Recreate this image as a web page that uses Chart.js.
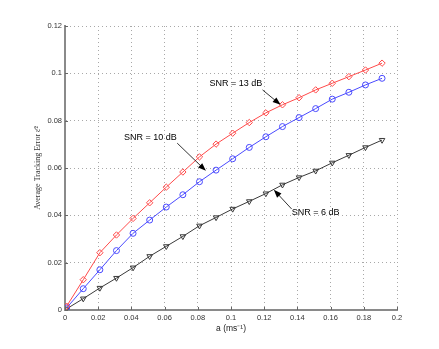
<!DOCTYPE html>
<html>
<head>
<meta charset="utf-8">
<script src="https://cdn.jsdelivr.net/npm/chart.js@4/dist/chart.umd.min.js"></script>
<style>html,body{margin:0;padding:0;background:#fff;}canvas{display:block;}</style>
</head>
<body>
<canvas id="c" width="439" height="349"></canvas>
<script>
const aValues = [0.001,0.011,0.021,0.031,0.041,0.051,0.061,0.071,0.081,0.091,0.101,0.111,0.121,0.131,0.141,0.151,0.161,0.171,0.181,0.191];
const snr13 = [0.0016,0.0128,0.0242,0.0317,0.0387,0.0453,0.0519,0.0583,0.0647,0.0701,0.0747,0.0792,0.0833,0.0867,0.0897,0.0930,0.0958,0.0986,0.1014,0.1043];
const snr10 = [0.0009,0.0090,0.0170,0.0251,0.0324,0.0380,0.0435,0.0487,0.0542,0.0591,0.0639,0.0687,0.0732,0.0775,0.0813,0.0851,0.0891,0.0920,0.0951,0.0979];
const snr6  = [0.0005,0.0048,0.0093,0.0135,0.0179,0.0227,0.0269,0.0311,0.0356,0.0391,0.0427,0.0459,0.0492,0.0529,0.0560,0.0588,0.0622,0.0654,0.0687,0.0718];
const xTickLabels = ['0','0.02','0.04','0.06','0.08','0.1','0.12','0.14','0.16','0.18','0.2'];
const yTickLabels = ['0','0.02','0.04','0.06','0.08','0.1','0.12'];
const annotations = [
  {text:'SNR = 13 dB', tx:0.1029, ty:0.0959, ax0:0.1190, ay0:0.0930, ax1:0.1299, ay1:0.0867},
  {text:'SNR = 10 dB', tx:0.0514, ty:0.0729, ax0:0.0676, ay0:0.0705, ax1:0.0849, ay1:0.0588},
  {text:'SNR = 6 dB',  tx:0.1510, ty:0.0410, ax0:0.1365, ay0:0.0427, ax1:0.1258, ay1:0.0508}
];

const toPts = arr => arr.map((v,i)=>({x:aValues[i], y:v}));

const annotPlugin = {
  id:'annot',
  afterDatasetsDraw(chart){
    const {ctx, scales:{x,y}, chartArea} = chart;
    ctx.save();
    ctx.strokeStyle = '#666'; ctx.lineWidth = 1;
    ctx.beginPath();
    x.ticks.forEach(t=>{const px=Math.round(x.getPixelForValue(t.value))+0.5; ctx.moveTo(px,chartArea.bottom); ctx.lineTo(px,chartArea.bottom-3);});
    y.ticks.forEach(t=>{const py=Math.round(y.getPixelForValue(t.value))+0.5; ctx.moveTo(chartArea.left,py); ctx.lineTo(chartArea.left+3,py);});
    ctx.stroke();
    ctx.font = '9px "Liberation Sans", Arial, sans-serif';
    ctx.fillStyle = '#000'; ctx.textAlign='center'; ctx.textBaseline='middle';
    annotations.forEach(a=>{
      ctx.fillText(a.text, x.getPixelForValue(a.tx), y.getPixelForValue(a.ty));
      const x0=x.getPixelForValue(a.ax0), y0=y.getPixelForValue(a.ay0);
      const x1=x.getPixelForValue(a.ax1), y1=y.getPixelForValue(a.ay1);
      const ang=Math.atan2(y1-y0,x1-x0), L=8, W=3;
      ctx.strokeStyle='#000'; ctx.lineWidth=0.8;
      ctx.beginPath(); ctx.moveTo(x0,y0); ctx.lineTo(x1-L*Math.cos(ang)*0.8,y1-L*Math.sin(ang)*0.8); ctx.stroke();
      ctx.beginPath();
      ctx.moveTo(x1,y1);
      ctx.lineTo(x1-L*Math.cos(ang)+W*Math.sin(ang), y1-L*Math.sin(ang)-W*Math.cos(ang));
      ctx.lineTo(x1-L*Math.cos(ang)-W*Math.sin(ang), y1-L*Math.sin(ang)+W*Math.cos(ang));
      ctx.closePath(); ctx.fill();
    });
    ctx.restore();
  }
};

const tickFont = {family:'"Liberation Sans", Arial, sans-serif', size:7.5};
new Chart(document.getElementById('c'), {
  type:'line',
  data:{datasets:[
    {data:toPts(snr13), borderColor:'#ff4a4a', borderWidth:1, pointStyle:'rectRot', pointRadius:3.2, pointBorderColor:'#ff4a4a', pointBackgroundColor:'rgba(0,0,0,0)', pointBorderWidth:1, tension:0},
    {data:toPts(snr10), borderColor:'#4a4aff', borderWidth:1, pointStyle:'circle', pointRadius:3, pointBorderColor:'#4a4aff', pointBackgroundColor:'rgba(0,0,0,0)', pointBorderWidth:1, tension:0},
    {data:toPts(snr6), borderColor:'#3a3a3a', borderWidth:1, pointStyle:'triangle', pointRotation:180, pointRadius:3.2, pointBorderColor:'#3a3a3a', pointBackgroundColor:'rgba(0,0,0,0)', pointBorderWidth:1, tension:0}
  ]},
  options:{
    responsive:false, animation:false, devicePixelRatio:1,
    layout:{padding:{left:0, top:26, right:42, bottom:0}},
    plugins:{legend:{display:false}, tooltip:{enabled:false}},
    scales:{
      x:{type:'linear', min:0, max:0.2,
        ticks:{stepSize:0.02, color:'#333', font:tickFont, padding:3, maxRotation:0, autoSkip:false,
          callback:(v,i)=>xTickLabels[i]},
        grid:{color:'#a8a8a8', lineWidth:1, drawTicks:false},
        border:{display:true, color:'#8a8a8a', width:2, dash:[1,3]},
        title:{display:true, text:'a (ms⁻¹)', color:'#222', font:{family:'"Liberation Sans", Arial, sans-serif', size:8.5}, padding:{top:0,bottom:15}},
        afterFit:s=>{s.height=39;}
      },
      y:{type:'linear', min:0, max:0.12,
        ticks:{stepSize:0.02, color:'#333', font:tickFont, padding:3, autoSkip:false,
          callback:(v,i)=>yTickLabels[i]},
        grid:{color:'#a8a8a8', lineWidth:1, drawTicks:false},
        border:{display:true, color:'#8a8a8a', width:2, dash:[1,3]},
        title:{display:true, text:'Average Tracking Error ε̄²', color:'#333', font:{family:'"Liberation Serif", "Times New Roman", serif', size:8}, padding:{top:33,bottom:0}},
        afterFit:s=>{s.height; s.width=65;}
      }
    }
  },
  plugins:[annotPlugin]
});
</script>
</body>
</html>
